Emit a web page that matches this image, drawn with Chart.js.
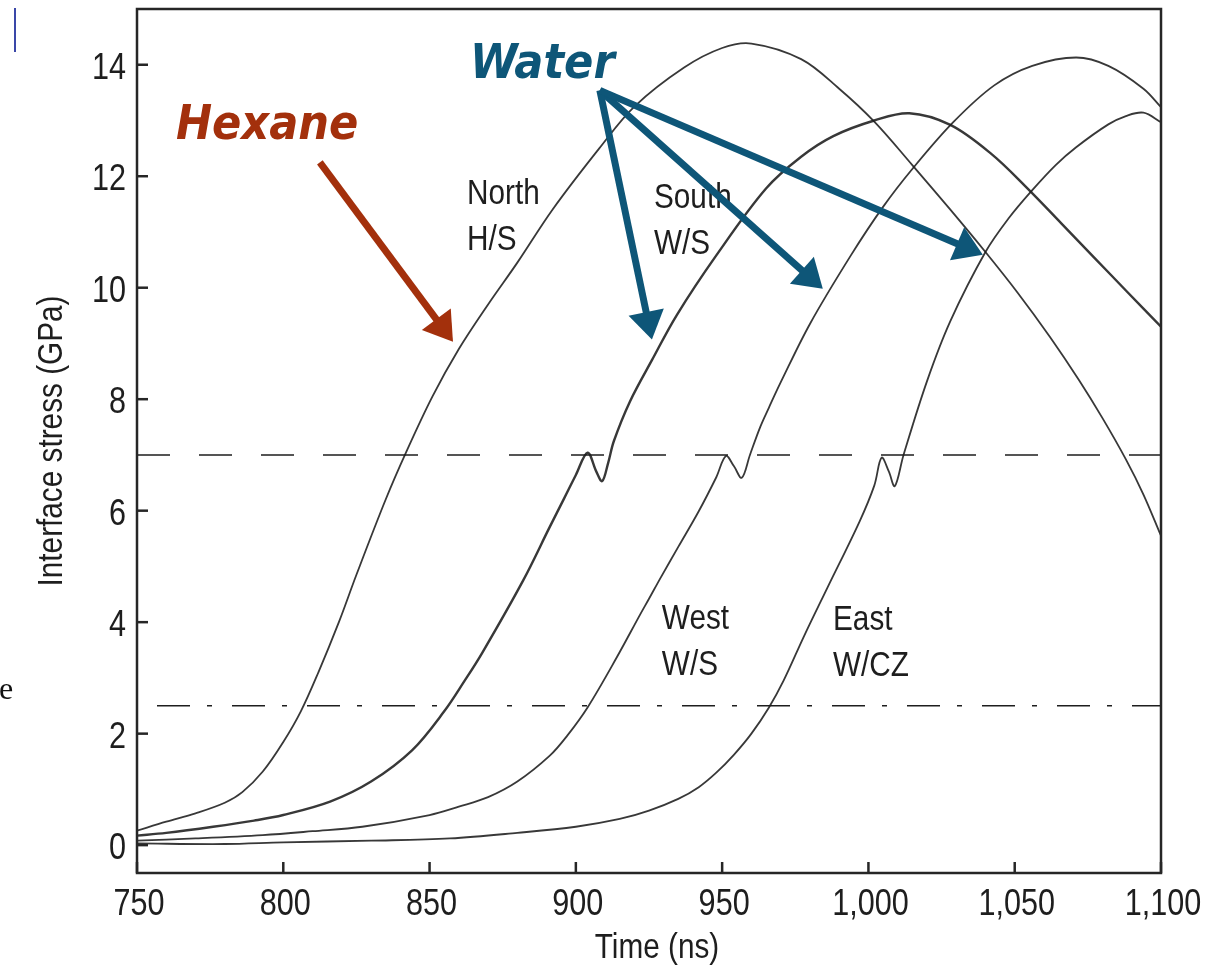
<!DOCTYPE html>
<html>
<head>
<meta charset="utf-8">
<script src="https://cdn.jsdelivr.net/npm/chart.js@4.4.1/dist/chart.umd.min.js"></script>
<style>
  body { margin: 0; background: #fff; }
  #wrap { position: relative; width: 1225px; height: 975px; }
  #bar { position: absolute; left: 14px; top: 8px; width: 2px; height: 44px; background: #3a47a8; }
  #cut { position: absolute; left: -1px; top: 670px; font: 32px 'Liberation Serif', serif; color: #111; }
</style>
</head>
<body>
<div id="wrap">
  <canvas id="stressChart" width="1225" height="975"></canvas>
  <div id="bar"></div>
  <div id="cut">e</div>
</div>
<script>
// axis ticks
const xTicks = [750, 800, 850, 900, 950, 1000, 1050, 1100]
const xTickLabels = ['750', '800', '850', '900', '950', '1,000', '1,050', '1,100']
const yTicks = [0, 2, 4, 6, 8, 10, 12, 14]
const yTickLabels = ['0', '2', '4', '6', '8', '10', '12', '14']
const xTitle = 'Time (ns)'
const yTitle = 'Interface stress (GPa)'

// North H/S (hexane)
const northTime = [750, 760, 770, 780, 786, 793, 800, 806, 812, 819, 825, 835, 842, 851, 860, 870, 880, 892, 908, 920, 937, 950, 960, 977, 990, 1002, 1015, 1028, 1040, 1051, 1062, 1072, 1080, 1088, 1094, 1100]
const northStress = [0.26, 0.42, 0.57, 0.76, 0.95, 1.32, 1.85, 2.4, 3.1, 4.0, 4.85, 6.2, 7.05, 8.05, 8.9, 9.7, 10.45, 11.4, 12.5, 13.25, 13.95, 14.3, 14.38, 14.1, 13.57, 12.98, 12.2, 11.4, 10.64, 9.91, 9.12, 8.34, 7.66, 6.92, 6.29, 5.55]

// South W/S
const southTime = [750, 760, 776, 790, 800, 816, 830, 844, 855, 862, 868, 882, 891, 896, 900, 904, 907, 909, 911, 913, 918.5, 926, 934.5, 948, 965, 977, 988, 1002, 1014, 1028, 1042, 1054, 1066, 1077, 1088, 1100]
const southStress = [0.17, 0.22, 0.33, 0.44, 0.54, 0.78, 1.14, 1.7, 2.4, 2.95, 3.45, 4.75, 5.7, 6.22, 6.64, 7.04, 6.7, 6.53, 6.85, 7.25, 7.96, 8.7, 9.51, 10.58, 11.78, 12.35, 12.72, 13.0, 13.13, 12.92, 12.4, 11.8, 11.15, 10.55, 9.95, 9.3]

// West W/S
const westTime = [750, 770, 793, 810, 827, 850, 860, 870, 880, 891, 897, 904, 914, 922, 925, 929, 935, 942, 948, 951.3, 954, 956.7, 959.5, 963, 966, 970, 980, 994, 1005, 1015, 1029, 1043, 1056, 1071, 1082, 1094, 1100]
const westStress = [0.08, 0.12, 0.18, 0.25, 0.33, 0.54, 0.69, 0.86, 1.14, 1.6, 1.96, 2.47, 3.37, 4.14, 4.42, 4.8, 5.35, 5.99, 6.6, 6.98, 6.8, 6.59, 7.0, 7.5, 7.85, 8.3, 9.35, 10.58, 11.45, 12.13, 12.97, 13.63, 13.98, 14.13, 13.98, 13.57, 13.24]

// East W/CZ
const eastTime = [750, 780, 800, 830, 857, 880, 900, 915, 925, 935, 942, 948, 954, 960, 966, 971, 978, 986, 997, 1002, 1004.5, 1007, 1009, 1012, 1020, 1028, 1040, 1048, 1056, 1064, 1071, 1082, 1088, 1094, 1100]
const eastStress = [0.03, 0.02, 0.05, 0.08, 0.12, 0.22, 0.33, 0.47, 0.62, 0.83, 1.04, 1.3, 1.62, 2.0, 2.47, 2.95, 3.75, 4.62, 5.81, 6.45, 6.95, 6.7, 6.44, 7.0, 8.32, 9.4, 10.64, 11.25, 11.75, 12.2, 12.52, 12.93, 13.08, 13.14, 12.97]

// horizontal reference levels
const dashedLevel = 7
const dashDotLevel = 2.5

// curve labels: text lines, time, stress of first baseline
const curveLabels = [
  { lines: ['North', 'H/S'], t: 862.8, s: 11.5 },
  { lines: ['South', 'W/S'], t: 926.7, s: 11.43 },
  { lines: ['West', 'W/S'], t: 929.4, s: 3.88 },
  { lines: ['East', 'W/CZ'], t: 987.9, s: 3.86 },
]

const SANS = "36px 'Liberation Sans', Arial, sans-serif"
const LABEL = "35px 'Liberation Sans', Arial, sans-serif"
const BOLD = "italic bold 48px 'DejaVu Sans Condensed', 'DejaVu Sans', sans-serif"
const INK = '#1e1e1e'
const LINE = 'rgba(28, 28, 28, 0.88)'
const HEX = '#a3300c'
const WAT = '#0e5678'

const pts = (ts, vs) => ts.map((t, i) => ({ x: t, y: vs[i] }))

function curve(ts, vs, w) {
  return {
    data: pts(ts, vs),
    borderColor: LINE,
    borderWidth: w,
    pointRadius: 0,
    tension: 0.35,
    fill: false,
  }
}

function level(v, dash, offset) {
  return {
    data: [{ x: xTicks[0], y: v }, { x: xTicks[xTicks.length - 1], y: v }],
    borderColor: INK,
    borderWidth: 1.6,
    borderDash: dash,
    borderDashOffset: offset,
    pointRadius: 0,
    tension: 0,
  }
}

// condensed helvetica look: squeeze Liberation Sans sideways
function narrow(ctx, text, x, y, align, rot) {
  ctx.save()
  ctx.translate(x, y)
  if (rot) ctx.rotate(rot)
  ctx.scale(0.85, 1)
  ctx.textAlign = align
  ctx.fillText(text, 0, 0)
  ctx.restore()
}

function arrow(ctx, x0, y0, x1, y1, color) {
  const ang = Math.atan2(y1 - y0, x1 - x0)
  const len = 28
  const hw = 18
  const bx = x1 - len * Math.cos(ang)
  const by = y1 - len * Math.sin(ang)
  ctx.strokeStyle = color
  ctx.fillStyle = color
  ctx.lineWidth = 7
  ctx.beginPath()
  ctx.moveTo(x0, y0)
  ctx.lineTo(bx + 2 * Math.cos(ang), by + 2 * Math.sin(ang))
  ctx.stroke()
  ctx.beginPath()
  ctx.moveTo(x1, y1)
  ctx.lineTo(bx + hw * Math.sin(ang), by - hw * Math.cos(ang))
  ctx.lineTo(bx - hw * Math.sin(ang), by + hw * Math.cos(ang))
  ctx.closePath()
  ctx.fill()
}

const notes = {
  id: 'notes',
  afterDatasetsDraw(chart) {
    const { ctx, scales: { x, y } } = chart
    const X = (t) => x.getPixelForValue(t)
    const Y = (s) => y.getPixelForValue(s)
    ctx.save()
    ctx.fillStyle = INK
    ctx.font = LABEL
    curveLabels.forEach((c) => {
      c.lines.forEach((ln, i) => narrow(ctx, ln, X(c.t), Y(c.s) + i * 46, 'left'))
    })

    ctx.font = BOLD
    ctx.fillStyle = HEX
    ctx.fillText('Hexane', X(763.3), Y(12.67))
    arrow(ctx, X(812.5), Y(12.25), X(858), Y(9.03), HEX)

    ctx.fillStyle = WAT
    ctx.fillText('Water', X(863.8), Y(13.77))
    arrow(ctx, X(908.2), Y(13.54), X(926), Y(9.07), WAT)
    arrow(ctx, X(908.2), Y(13.54), X(984.4), Y(9.98), WAT)
    arrow(ctx, X(908.2), Y(13.54), X(1039.1), Y(10.59), WAT)
    ctx.restore()
  },
  afterDraw(chart) {
    const { ctx, chartArea: a, scales: { x, y } } = chart
    ctx.save()
    // frame and inward ticks
    ctx.strokeStyle = '#262626'
    ctx.lineWidth = 2.5
    ctx.strokeRect(a.left, a.top, a.right - a.left, a.bottom - a.top)
    x.ticks.forEach((t) => {
      const px = x.getPixelForValue(t.value)
      ctx.beginPath()
      ctx.moveTo(px, a.bottom)
      ctx.lineTo(px, a.bottom - 11)
      ctx.stroke()
    })
    y.ticks.forEach((t) => {
      const py = y.getPixelForValue(t.value)
      ctx.beginPath()
      ctx.moveTo(a.left, py)
      ctx.lineTo(a.left + 11, py)
      ctx.stroke()
    })
    // tick labels and titles
    ctx.fillStyle = INK
    ctx.font = SANS
    x.ticks.forEach((t, i) => narrow(ctx, xTickLabels[i], x.getPixelForValue(t.value) + 2, a.bottom + 42, 'center'))
    y.ticks.forEach((t, i) => narrow(ctx, yTickLabels[i], a.left - 11, y.getPixelForValue(t.value) + 14, 'right'))
    ctx.font = LABEL
    narrow(ctx, xTitle, (a.left + a.right) / 2 + 8, a.bottom + 85, 'center')
    narrow(ctx, yTitle, 62, (a.top + a.bottom) / 2, 'center', -Math.PI / 2)
    ctx.restore()
  },
}

new Chart(document.getElementById('stressChart').getContext('2d'), {
  type: 'line',
  data: {
    datasets: [
      curve(northTime, northStress, 1.8),
      curve(southTime, southStress, 2.4),
      curve(westTime, westStress, 1.8),
      curve(eastTime, eastStress, 1.8),
      level(dashedLevel, [33, 29], 0),
      level(dashDotLevel, [33, 17, 5, 20], 55),
    ],
  },
  options: {
    responsive: false,
    animation: false,
    events: [],
    layout: { padding: { top: 9, right: 64, left: 0, bottom: 0 } },
    plugins: {
      legend: { display: false },
      tooltip: { enabled: false },
    },
    scales: {
      x: {
        type: 'linear',
        min: 750,
        max: 1100,
        afterBuildTicks: (s) => { s.ticks = xTicks.map((v) => ({ value: v })) },
        afterFit: (s) => {
          s.height = 102
          s.paddingLeft = 0
          s.paddingRight = 0
        },
        grid: { display: false },
        border: { display: false },
        ticks: { display: false },
      },
      y: {
        min: -0.5,
        max: 15,
        afterBuildTicks: (s) => { s.ticks = yTicks.map((v) => ({ value: v })) },
        afterFit: (s) => {
          s.width = 137
          s.paddingTop = 0
          s.paddingBottom = 0
        },
        grid: { display: false },
        border: { display: false },
        ticks: { display: false },
      },
    },
  },
  plugins: [notes],
})
</script>
</body>
</html>
